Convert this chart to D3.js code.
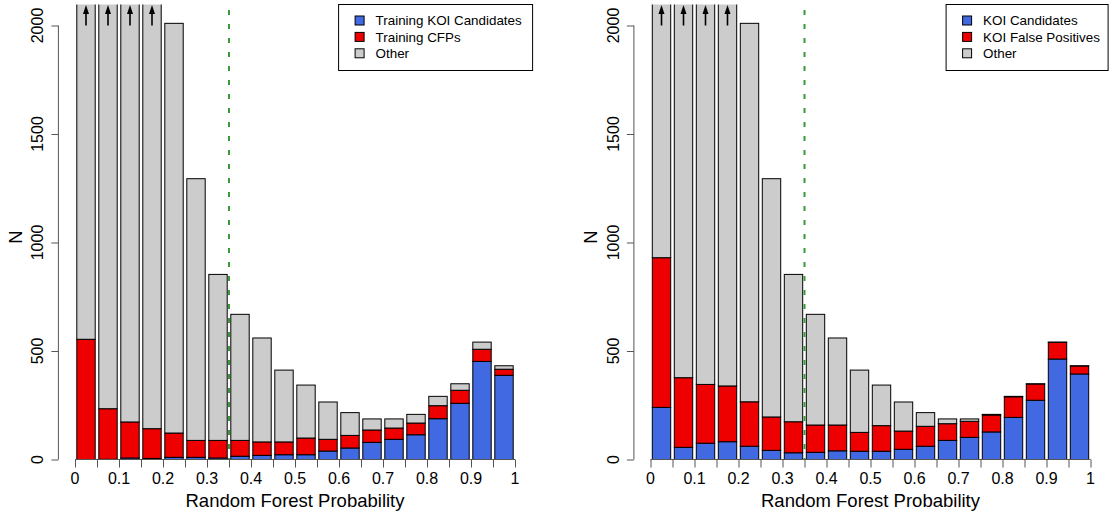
<!DOCTYPE html>
<html>
<head>
<meta charset="utf-8">
<script src="https://cdn.jsdelivr.net/npm/d3@7"></script>
<style>
  html, body { margin: 0; padding: 0; background: #fff; }
  svg { display: block; font-family: "Liberation Sans", Arial, Helvetica, sans-serif; }
</style>
</head>
<body>
<svg id="chart" width="1109" height="514"></svg>
<script>
// Histogram bins of the random forest probability (left edges, bin width 0.05)
const binLo = [0, 0.05, 0.1, 0.15, 0.2, 0.25, 0.3, 0.35, 0.4, 0.45,
               0.5, 0.55, 0.6, 0.65, 0.7, 0.75, 0.8, 0.85, 0.9, 0.95];
const binWidth = 0.05;

// All objects per bin (first four bins run off the top of the axis)
const totals = [4800, 3100, 2600, 2300, 2010, 1294, 853, 669, 560, 412,
                343, 265, 216, 187, 187, 208, 291, 349, 541, 432];

// Left panel: training sets
const trainCandidates = [0, 1, 7, 5, 10, 10, 7, 15, 19, 22,
                         22, 39, 53, 79, 93, 114, 188, 259, 452, 388];
const trainCFPs = [554, 233, 166, 137, 112, 78, 81, 73, 62, 59,
                   77, 54, 58, 57, 52, 54, 60, 60, 56, 28];

// Right panel: KOI dispositions
const koiCandidates = [240, 56, 75, 82, 61, 42, 31, 33, 40, 38,
                       38, 47, 61, 88, 102, 127, 194, 273, 463, 394];
const koiFalsePositives = [690, 321, 271, 257, 205, 154, 143, 126, 119, 87,
                           118, 84, 92, 77, 74, 78, 95, 75, 77, 37];

const xTicks = [0, 0.05, 0.1, 0.15, 0.2, 0.25, 0.3, 0.35, 0.4, 0.45, 0.5,
                0.55, 0.6, 0.65, 0.7, 0.75, 0.8, 0.85, 0.9, 0.95, 1];
const xLabels = [0, 0.1, 0.2, 0.3, 0.4, 0.5, 0.6, 0.7, 0.8, 0.9, 1];
const yTicks = [0, 500, 1000, 1500, 2000];
const threshold = 0.35;

const colors = { cand: "#4169E1", fp: "#EE0000", other: "#CCCCCC" };

const panels = [
  { id: "train", x0: 75, cand: trainCandidates, fp: trainCFPs,
    names: ["Training KOI Candidates", "Training CFPs", "Other"] },
  { id: "koi", x0: 650.5, cand: koiCandidates, fp: koiFalsePositives,
    names: ["KOI Candidates", "KOI False Positives", "Other"] }
];

const svg = d3.select("#chart");
const plotTop = 4.5;
const y = d3.scaleLinear().domain([0, 2000]).range([459.5, 25.5]);
const yMaxShown = y.invert(plotTop);

panels.forEach((p, pi) => {
  const x = d3.scaleLinear().domain([0, 1]).range([p.x0, p.x0 + 440]);
  const left = x(-0.04), right = x(1.04);
  const g = svg.append("g");

  // clip region: bars taller than the axis range are cut at the top
  const clipId = "clip-" + p.id;
  svg.append("clipPath").attr("id", clipId)
    .append("rect").attr("x", left).attr("y", plotTop)
    .attr("width", right - left).attr("height", 480 - plotTop);

  const rows = binLo.map((lo, i) => ({
    lo, cand: p.cand[i], fp: p.fp[i], other: totals[i] - p.cand[i] - p.fp[i]
  }));
  const stack = d3.stack().keys(["cand", "fp", "other"])(rows);

  const inset = 1.8;
  const bars = g.append("g").attr("clip-path", `url(#${clipId})`);
  stack.forEach(layer => {
    bars.selectAll(null).data(layer).enter().append("rect")
      .attr("x", d => x(d.data.lo) + inset)
      .attr("width", d => x(d.data.lo + binWidth) - x(d.data.lo) - 2 * inset)
      .attr("y", d => y(d[1]))
      .attr("height", d => y(d[0]) - y(d[1]))
      .attr("fill", colors[layer.key])
      .attr("stroke", "#000")
      .attr("stroke-width", 1);
  });

  // arrows on bins that exceed the axis range
  rows.forEach(r => {
    if (r.cand + r.fp + r.other > yMaxShown) {
      const cx = x(r.lo + binWidth / 2);
      g.append("line").attr("x1", cx).attr("x2", cx)
        .attr("y1", y(2000)).attr("y2", 12)
        .attr("stroke", "#000").attr("stroke-width", 1.6);
      g.append("path")
        .attr("d", `M${cx},5 L${cx - 3},14 L${cx + 3},14 Z`)
        .attr("fill", "#000");
    }
  });

  // threshold line
  g.append("line")
    .attr("x1", x(threshold)).attr("x2", x(threshold))
    .attr("y1", 10).attr("y2", y(0))
    .attr("stroke", "#3A9A3A").attr("stroke-width", 2)
    .attr("stroke-dasharray", "5,9");

  // x axis
  const xAxis = d3.axisBottom(x).tickValues(xTicks).tickSize(8).tickFormat("");
  const xa = g.append("g").attr("transform", `translate(0,${y(0)})`).call(xAxis);
  xa.select(".domain").attr("stroke", "#555").attr("d", `M${x(0)},0H${x(1)}`);
  xa.selectAll(".tick line").attr("stroke", "#555");
  g.selectAll(null).data(xLabels).enter().append("text")
    .attr("x", d => x(d)).attr("y", 484)
    .attr("text-anchor", "middle").attr("font-size", 16).attr("fill", "#000")
    .text(d => d3.format("")(d));
  g.append("text").attr("x", (left + right) / 2).attr("y", 506.5)
    .attr("text-anchor", "middle").attr("font-size", 18.5)
    .text("Random Forest Probability");

  // y axis
  const yAxis = d3.axisLeft(y).tickValues(yTicks).tickSize(7).tickFormat("");
  const ya = g.append("g").attr("transform", `translate(${left + 1},0)`).call(yAxis);
  ya.select(".domain").attr("stroke", "#555").attr("d", `M0,${y(0)}V${y(2000)}`);
  ya.selectAll(".tick line").attr("stroke", "#555");
  g.selectAll(null).data(yTicks).enter().append("text")
    .attr("transform", d => `translate(${left - 14},${y(d)}) rotate(-90)`)
    .attr("text-anchor", "middle").attr("font-size", 16)
    .text(d => d);
  g.append("text")
    .attr("transform", `translate(${left - 35.5},237) rotate(-90)`)
    .attr("text-anchor", "middle").attr("font-size", 18.5)
    .text("N");

  // legend
  const lw = pi === 0 ? 194 : 162;
  const lx = right - lw, ly = plotTop;
  const lg = g.append("g");
  lg.append("rect").attr("x", lx).attr("y", ly).attr("width", lw).attr("height", 66)
    .attr("fill", "#fff").attr("stroke", "#000").attr("stroke-width", 1);
  [colors.cand, colors.fp, colors.other].forEach((c, i) => {
    const cy = 20.5 + i * 16.4;
    lg.append("rect").attr("x", lx + 16.5).attr("y", cy - 4.5)
      .attr("width", 9).attr("height", 9)
      .attr("fill", c).attr("stroke", "#000").attr("stroke-width", 1);
    lg.append("text").attr("x", lx + 37).attr("y", cy + 4.8)
      .attr("font-size", 13.4).text(p.names[i]);
  });
});
</script>
</body>
</html>
